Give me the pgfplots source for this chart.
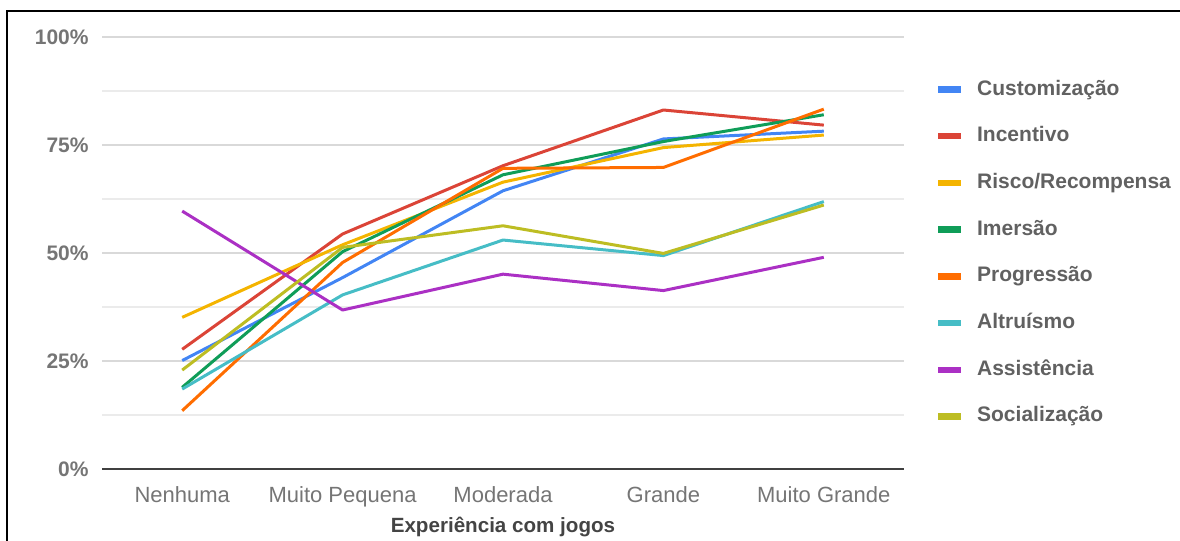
\documentclass[border=0pt]{standalone}
\usepackage{pgfplots}
\pgfplotsset{compat=1.18}
\usepackage{fontspec}
\setmainfont{Liberation Sans}
\definecolor{cBlue}{HTML}{4285F4}
\definecolor{cRed}{HTML}{DB4437}
\definecolor{cYellow}{HTML}{F4B400}
\definecolor{cGreen}{HTML}{0F9D58}
\definecolor{cOrange}{HTML}{FF6D00}
\definecolor{cCyan}{HTML}{46BDC6}
\definecolor{cPurple}{HTML}{AB30C4}
\definecolor{cOlive}{HTML}{BDBD23}
\definecolor{tickgray}{HTML}{757575}
\definecolor{leggray}{HTML}{616161}
\definecolor{titlegray}{HTML}{444444}
\begin{document}
\begin{tikzpicture}
\useasboundingbox (0,0) rectangle (590pt,270.5pt);
\draw[line width=1pt,black] (3.25pt,0pt) -- (3.25pt,265pt) -- (590pt,265pt);
\begin{axis}[
  at={(51pt,36pt)}, anchor=south west,
  scale only axis, width=401pt, height=216pt,
  xmin=-0.5, xmax=4.5, ymin=0, ymax=100,
  xtick={0,1,2,3,4},
  xticklabels={Nenhuma,Muito Pequena,Moderada,Grande,Muito Grande},
  ytick={0,25,50,75,100},
  minor ytick={12.5,37.5,62.5,87.5},
  yticklabel={\pgfmathprintnumber[assume math mode=true]{\tick}\%},
  axis line style={draw=none},
  major tick length=0pt, minor tick length=0pt,
  tick style={draw=none},
  ymajorgrids, yminorgrids,
  major grid style={color=black!15, line width=0.8pt},
  minor grid style={color=black!8, line width=0.8pt},
  extra y ticks={0}, extra y tick labels={},
  extra y tick style={major grid style={color=black!75, line width=1.1pt}},
  xticklabel style={font=\fontsize{11}{13}\selectfont, text=tickgray, anchor=base, yshift=-17pt, inner sep=0pt},
  yticklabel style={font=\bfseries\fontsize{10.5}{12}\selectfont, text=tickgray, anchor=east, inner sep=0pt, text height=7.6pt, text depth=0pt, xshift=-6.5pt},
  xlabel={Experiência com jogos},
  xlabel style={font=\bfseries\fontsize{10.3}{12}\selectfont, text=titlegray, at={(axis description cs:0.5,0)}, anchor=base, yshift=-32pt, inner sep=0pt},
  every axis plot/.append style={line width=1.5pt, mark=none, line join=round},
  legend cell align=left,
  legend image code/.code={\draw[line width=3.2pt] (0pt,0pt) -- (11.5pt,0pt); \path[draw=none] (0pt,0pt) -- (19.5pt,0pt);},
  legend style={at={(1.0386,0.5)}, anchor=west, draw=none, fill=none, inner sep=0pt, outer sep=0pt,
    font=\bfseries\fontsize{10.5}{12}\selectfont, text=leggray,
    nodes={inner sep=0pt, text height=8pt, text depth=2.5pt},
    row sep=12.85pt, column sep=0pt},
]
\addplot[cBlue] coordinates {(0,25.1) (1,44.3) (2,64.4) (3,76.4) (4,78.2)};
\addlegendentry{Customização}
\addplot[cRed] coordinates {(0,27.7) (1,54.4) (2,70.2) (3,83.1) (4,79.6)};
\addlegendentry{Incentivo}
\addplot[cYellow] coordinates {(0,35.1) (1,51.9) (2,66.4) (3,74.4) (4,77.3)};
\addlegendentry{Risco/Recompensa}
\addplot[cGreen] coordinates {(0,18.9) (1,50.3) (2,68.1) (3,75.8) (4,82.0)};
\addlegendentry{Imersão}
\addplot[cOrange] coordinates {(0,13.5) (1,47.8) (2,69.6) (3,69.8) (4,83.3)};
\addlegendentry{Progressão}
\addplot[cCyan] coordinates {(0,18.5) (1,40.3) (2,53.0) (3,49.4) (4,61.9)};
\addlegendentry{Altruísmo}
\addplot[cPurple] coordinates {(0,59.7) (1,36.8) (2,45.1) (3,41.3) (4,49.0)};
\addlegendentry{Assistência}
\addplot[cOlive] coordinates {(0,22.9) (1,51.3) (2,56.3) (3,49.9) (4,61.1)};
\addlegendentry{Socialização}
\end{axis}
\end{tikzpicture}
\end{document}
